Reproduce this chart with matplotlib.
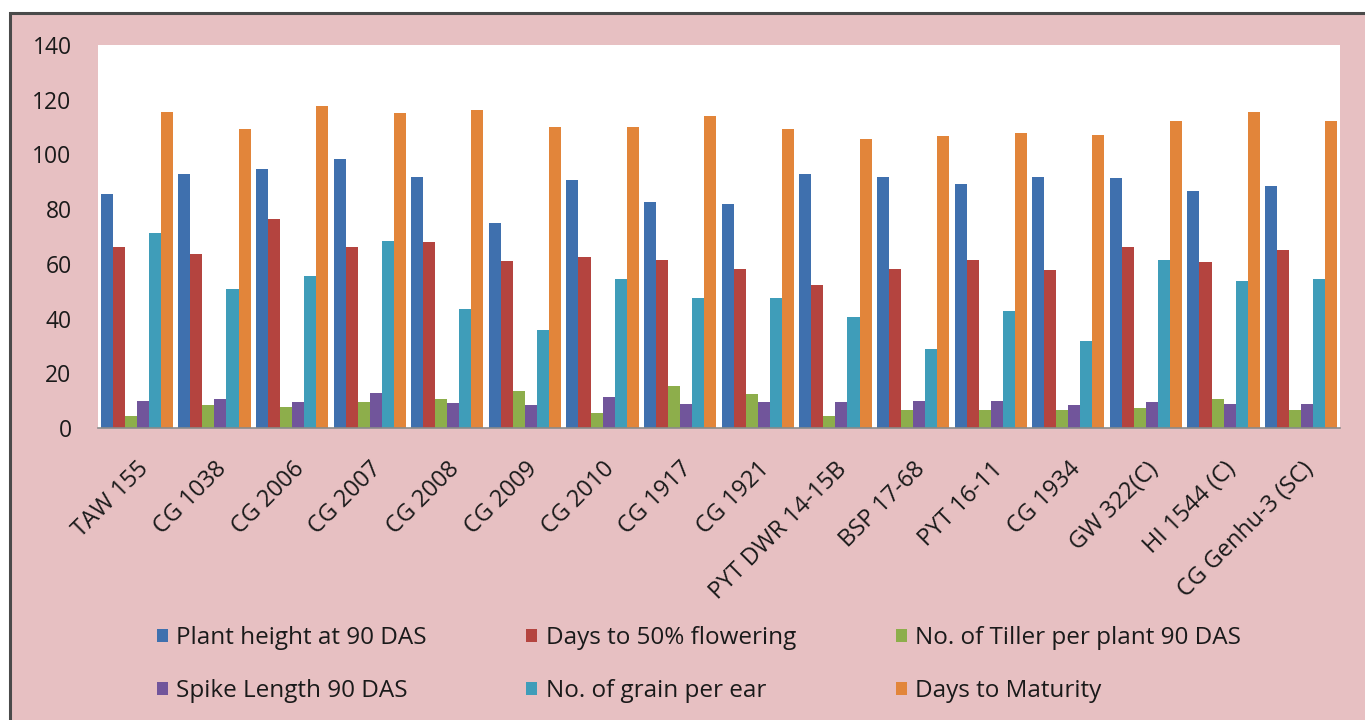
import matplotlib
matplotlib.use("Agg")
import matplotlib.pyplot as plt
from matplotlib.patches import Rectangle, Patch
import numpy as np

# Wheat genotypes evaluated
genotypes = ["TAW 155", "CG 1038", "CG 2006", "CG 2007", "CG 2008", "CG 2009",
             "CG 2010", "CG 1917", "CG 1921", "PYT DWR 14-15B", "BSP 17-68",
             "PYT 16-11", "CG 1934", "GW 322(C)", "HI 1544 (C)", "CG Genhu-3 (SC)"]

plant_height = [85.5, 92.7, 94.8, 98.2, 91.7, 74.8, 90.8, 82.7, 81.8, 92.7, 91.7,
                89.3, 91.7, 91.3, 86.7, 88.3]
days_50_flowering = [66, 63.5, 76.3, 66, 68, 61, 62.4, 61.5, 58.1, 52.1, 58.1,
                     61.5, 57.6, 66, 60.6, 64.9]
tillers_90 = [4.5, 8.4, 7.6, 9.4, 10.5, 13.4, 5.4, 15.4, 12.4, 4.5, 6.5,
              6.5, 6.5, 7.4, 10.5, 6.5]
spike_length_90 = [10, 10.5, 9.4, 12.9, 9, 8.4, 11.5, 8.9, 9.4, 9.4, 10,
                   10, 8.4, 9.4, 8.9, 8.9]
grain_per_ear = [71.4, 50.7, 55.6, 68.5, 43.6, 35.7, 54.6, 47.6, 47.6, 40.7, 28.8,
                 42.6, 31.8, 61.5, 53.6, 54.6]
days_maturity = [115.6, 109.2, 117.6, 115, 116.1, 110.1, 110.1, 114, 109.2, 105.6, 106.6,
                 108, 107.1, 112.1, 115.6, 112.1]

series_names = ["Plant height at 90 DAS", "Days to 50% flowering",
                "No. of Tiller per plant 90 DAS", "Spike Length 90 DAS",
                "No. of grain per ear", "Days to Maturity"]
series_values = [plant_height, days_50_flowering, tillers_90, spike_length_90,
                 grain_per_ear, days_maturity]
series_colors = ["#3F70AE", "#B4443F", "#8DAE4B", "#71559B", "#3F9DB9", "#E2853A"]

yticks = [0, 20, 40, 60, 80, 100, 120, 140]

plt.rcParams["font.family"] = ["Open Sans", "DejaVu Sans"]

fig = plt.figure(figsize=(13.65, 7.2), dpi=100, facecolor="white")

# pink panel with dark frame on top/left
panel = Rectangle((10 / 1365, -0.01), 1.02, (720 - 13) / 720 + 0.01,
                  transform=fig.transFigure, facecolor="#E7C0C2",
                  edgecolor="#4a4a4a", linewidth=2.2, zorder=-5)
fig.patches.append(panel)

ax = fig.add_axes([98 / 1365, 1 - 428 / 720, (1340 - 98) / 1365, (428 - 45) / 720])
ax.set_zorder(1)
ax.set_facecolor("white")

x = np.arange(len(genotypes))
w = 0.155
for j, (vals, col) in enumerate(zip(series_values, series_colors)):
    ax.bar(x + (j - 2.5) * w, vals, width=w, color=col, edgecolor="none", zorder=2)

ax.set_xlim(-0.5, len(genotypes) - 0.5)
ax.set_ylim(0, 140)
ax.set_yticks(yticks)
ax.set_yticklabels([str(v) for v in yticks], fontsize=16.5, color="#1a1a1a")
ax.set_xticks(x)
ax.set_xticklabels(genotypes, rotation=45, ha="right", rotation_mode="anchor",
                   fontsize=17, color="#1a1a1a")
ax.tick_params(axis="both", length=0)
ax.tick_params(axis="y", pad=19)
ax.tick_params(axis="x", pad=21)
for s in ["top", "right", "left"]:
    ax.spines[s].set_visible(False)
ax.spines["bottom"].set_color("#8a8a8a")
ax.spines["bottom"].set_linewidth(1.2)

# legend, filled row by row
handles = [Patch(facecolor=c, edgecolor="none") for c in series_colors]
order = [0, 3, 1, 4, 2, 5]
leg = fig.legend([handles[i] for i in order], [series_names[i] for i in order],
                 loc="center", bbox_to_anchor=(0.512, 0.077), ncol=3, frameon=False,
                 fontsize=17.5, handlelength=0.45, handleheight=0.45, handletextpad=0.35,
                 columnspacing=4.1, labelspacing=1.2, labelcolor="#1a1a1a")
leg.set_zorder(2)

fig.savefig("out.png", dpi=100, facecolor=fig.get_facecolor())
